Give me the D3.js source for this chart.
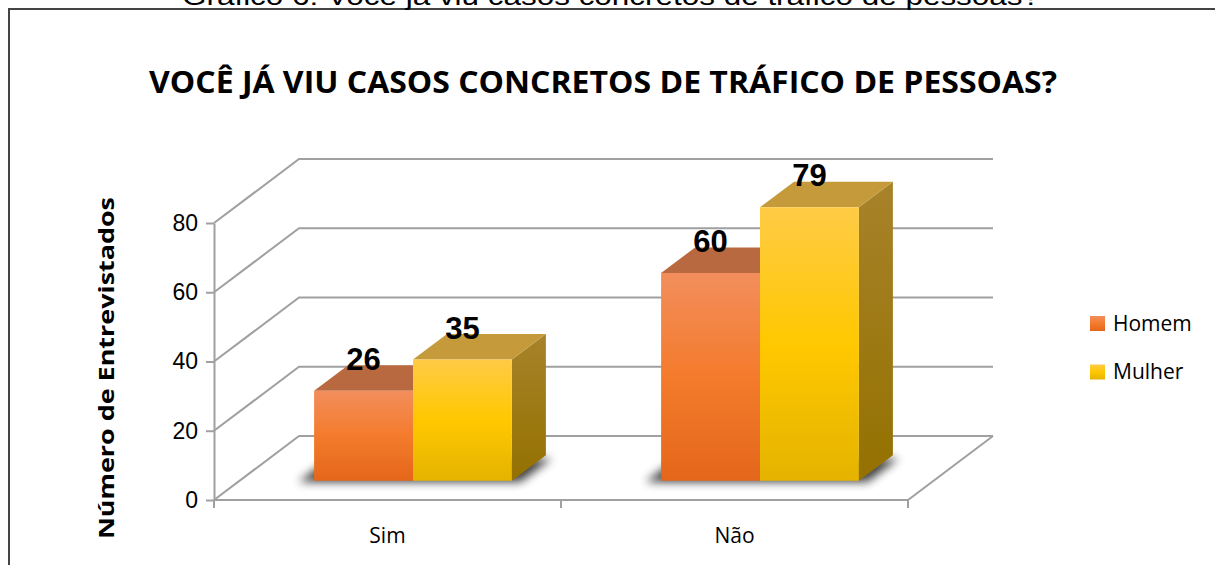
<!DOCTYPE html>
<html>
<head>
    <meta charset="utf-8">
    <title>Você já viu casos concretos de tráfico de pessoas?</title>
    <script src="https://d3js.org/d3.v7.min.js"></script>
    <style>
        body { margin: 0; background: #fff; }
        svg { display: block; }
        .tick text { font-family: "Liberation Sans", Arial, sans-serif; font-size: 23px; fill: #000; }
        .tick line, .domain { stroke: #a0a0a0; stroke-width: 2px; }
    </style>
</head>
<body>
<div id="chart"></div>
<script>
    // dados
    const categories = ["Sim", "Não"];
    const seriesNames = ["Homem", "Mulher"];
    const homem = [26, 60];
    const mulher = [35, 79];
    const yTicks = [0, 20, 40, 60, 80];

    const W = 1215, H = 565;
    // deslocamento de profundidade (frente -> fundo)
    const DX = 85, DY = -64;
    const t0 = 0.3, t1 = 0.7;

    const svg = d3.select("#chart").append("svg")
        .attr("width", W).attr("height", H);

    const defs = svg.append("defs");
    function vGrad(id, stops) {
        const g = defs.append("linearGradient").attr("id", id)
            .attr("x1", 0).attr("y1", 0).attr("x2", 0).attr("y2", 1);
        stops.forEach(s => g.append("stop").attr("offset", s[0]).attr("stop-color", s[1]));
    }
    vGrad("gHomem", [[0, "#F28E5C"], [0.5, "#F47B2C"], [1, "#E4661A"]]);
    vGrad("gMulher", [[0, "#FFCB45"], [0.5, "#FFC800"], [1, "#E5B300"]]);
    vGrad("sHomem", [[0, "#A9582E"], [1, "#8E4418"]]);
    vGrad("sMulher", [[0, "#A8822A"], [1, "#947100"]]);
    defs.append("filter").attr("id", "blur")
        .attr("x", "-20%").attr("y", "-50%").attr("width", "140%").attr("height", "200%")
        .append("feGaussianBlur").attr("stdDeviation", 5);

    const front = {Homem: "url(#gHomem)", Mulher: "url(#gMulher)"};
    const topC = {Homem: "#B8693F", Mulher: "#C49A3A"};
    const side = {Homem: "url(#sHomem)", Mulher: "url(#sMulher)"};

    // moldura
    svg.append("path")
        .attr("d", `M9,${H} L9,9 L${W},9`)
        .attr("fill", "none").attr("stroke", "#444").attr("stroke-width", 2);

    // texto cortado no topo
    svg.append("text")
        .attr("x", 611).attr("y", 5)
        .attr("text-anchor", "middle")
        .attr("textLength", 858).attr("lengthAdjust", "spacingAndGlyphs")
        .style("font-family", "Liberation Sans, Arial, sans-serif")
        .style("font-size", "26px")
        .text("Gráfico 6: Você já viu casos concretos de tráfico de pessoas?");

    // título
    svg.append("text")
        .attr("x", 603).attr("y", 93)
        .attr("text-anchor", "middle")
        .attr("textLength", 908).attr("lengthAdjust", "spacingAndGlyphs")
        .style("font-family", "Open Sans, sans-serif")
        .style("font-weight", "bold")
        .style("font-size", "31px")
        .text("VOCÊ JÁ VIU CASOS CONCRETOS DE TRÁFICO DE PESSOAS?");

    // escalas
    const y = d3.scaleLinear().domain([0, 80]).range([500, 223]);
    const x = d3.scaleBand().domain(categories).range([214, 908]);
    const xs = d3.scaleBand().domain(seriesNames)
        .range([x.bandwidth() * 0.215, x.bandwidth() * 0.785]);

    const P = (px, v, t) => [px + t * DX, y(v) + t * DY];
    const poly = pts => "M" + pts.map(p => p.join(",")).join("L") + "Z";

    const grid = svg.append("g")
        .attr("fill", "none").attr("stroke", "#a0a0a0").attr("stroke-width", 2);

    // parede lateral e de fundo
    yTicks.forEach(v => {
        const a = P(x.range()[0], v, 0), b = P(x.range()[0], v, 1), c = P(x.range()[1], v, 1);
        grid.append("path").attr("d", `M${a}L${b}L${c}`);
    });
    // chão
    {
        const a = P(x.range()[0], 0, 0), b = P(x.range()[1], 0, 0), c = P(x.range()[1], 0, 1);
        grid.append("path").attr("d", `M${a}L${b}L${c}`);
    }

    // eixo y
    svg.append("g")
        .attr("transform", `translate(${x.range()[0]},0)`)
        .call(d3.axisLeft(y).tickValues(yTicks).tickSize(8).tickPadding(8).tickSizeOuter(0));

    // marcas do eixo x
    const xTickPos = categories.map(c => x(c)).concat([x.range()[1]]);
    svg.append("g").selectAll("line").data(xTickPos).join("line")
        .attr("x1", d => d).attr("x2", d => d)
        .attr("y1", y(0)).attr("y2", y(0) + 8)
        .attr("stroke", "#a0a0a0").attr("stroke-width", 2);

    svg.append("g").selectAll("text").data(categories).join("text")
        .attr("x", d => x(d) + x.bandwidth() / 2)
        .attr("y", 543)
        .attr("text-anchor", "middle")
        .style("font-family", "Open Sans, sans-serif")
        .style("font-size", "21px")
        .text(d => d);

    // título do eixo y
    svg.append("text")
        .attr("transform", "translate(114,368) rotate(-90)")
        .attr("text-anchor", "middle")
        .attr("textLength", 342).attr("lengthAdjust", "spacingAndGlyphs")
        .style("font-family", "Open Sans, sans-serif")
        .style("font-weight", "bold")
        .style("font-size", "22px")
        .text("Número de Entrevistados");

    // dados por barra
    const bars = [];
    categories.forEach((c, i) => {
        bars.push({cat: c, s: "Homem", v: homem[i]});
        bars.push({cat: c, s: "Mulher", v: mulher[i]});
    });

    // sombras
    const shadows = svg.append("g").attr("filter", "url(#blur)").attr("opacity", 0.75);
    categories.forEach(c => {
        const xa = x(c) + xs("Homem") - 14, xb = x(c) + xs("Mulher") + xs.bandwidth() + 10;
        shadows.append("path").attr("fill", "#000")
            .attr("d", poly([P(xa, 0, t0 - 0.02), P(xb, 0, t0 - 0.02), P(xb, 0, t1 - 0.05), P(xa, 0, t1 - 0.05)]));
    });

    // barras 3D
    const barG = svg.append("g");
    bars.forEach(d => {
        const x0 = x(d.cat) + xs(d.s), x1 = x0 + xs.bandwidth();
        const g = barG.append("g");
        g.append("path").attr("fill", side[d.s])
            .attr("d", poly([P(x1, 0, t0), P(x1, 0, t1), P(x1, d.v, t1), P(x1, d.v, t0)]));
        g.append("path").attr("fill", topC[d.s])
            .attr("d", poly([P(x0, d.v, t0), P(x1, d.v, t0), P(x1, d.v, t1), P(x0, d.v, t1)]));
        g.append("path").attr("fill", front[d.s])
            .attr("d", poly([P(x0, 0, t0), P(x1, 0, t0), P(x1, d.v, t0), P(x0, d.v, t0)]));
        const c = P((x0 + x1) / 2, d.v, t0);
        g.append("text")
            .attr("x", c[0]).attr("y", c[1] - 21)
            .attr("text-anchor", "middle")
            .style("font-family", "Liberation Sans, Arial, sans-serif")
            .style("font-weight", "bold")
            .style("font-size", "31px")
            .text(d.v);
    });

    // legenda
    const legend = svg.append("g").attr("transform", "translate(1090,316)");
    seriesNames.forEach((s, i) => {
        const row = legend.append("g").attr("transform", `translate(0,${i * 48.5})`);
        row.append("rect").attr("width", 15).attr("height", 15).attr("fill", front[s]);
        row.append("text").attr("x", 23).attr("y", 14.5)
            .style("font-family", "Open Sans, sans-serif")
            .style("font-size", "21px")
            .text(s);
    });
</script>
</body>
</html>
